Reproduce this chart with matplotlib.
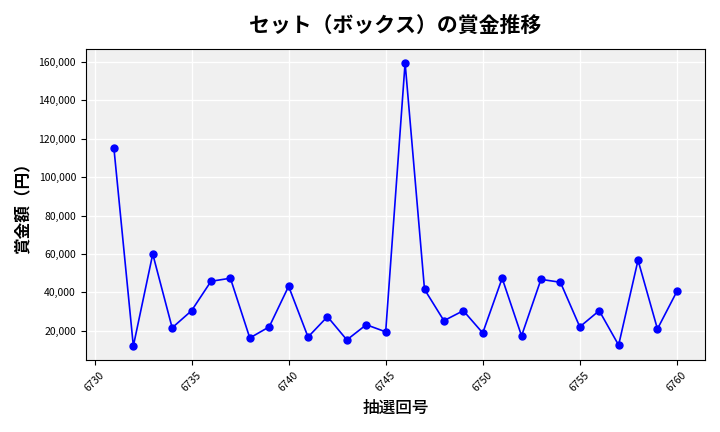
import matplotlib
matplotlib.use("Agg")
import matplotlib.pyplot as plt
from matplotlib.ticker import FuncFormatter

plt.rcParams["font.family"] = "Noto Sans CJK JP"

draws = list(range(6731, 6761))
prizes = [115000, 12100, 60000, 21600, 30500, 45800, 47400, 16300, 22100, 43200,
          16800, 27400, 15300, 23200, 19500, 159500, 41600, 25300, 30500, 18900,
          47400, 17400, 46800, 45300, 22100, 30500, 12600, 56800, 21000, 40500]
xticks = [6730, 6735, 6740, 6745, 6750, 6755, 6760]
yticks = [20000, 40000, 60000, 80000, 100000, 120000, 140000, 160000]

fig, ax = plt.subplots(figsize=(7.2, 4.32), dpi=100)
ax.set_facecolor("#f0f0f0")
ax.plot(draws, prizes, color="blue", marker="o", markersize=5, lw=1.2)
ax.grid(True, color="white", lw=1)
ax.set_axisbelow(True)
ax.set_xticks(xticks)
ax.set_yticks(yticks)
ax.yaxis.set_major_formatter(FuncFormatter(lambda v, p: f"{int(v):,}"))
ax.tick_params(axis="x", labelrotation=45, labelsize=7.5)
ax.tick_params(axis="y", labelsize=7.5)
ax.set_title("セット（ボックス）の賞金推移", fontsize=15, fontweight="bold", pad=12)
ax.set_xlabel("抽選回号", fontsize=12, fontweight="medium")
ax.set_ylabel("賞金額（円）", fontsize=12, fontweight="bold")
fig.tight_layout()
fig.savefig("out.png")
